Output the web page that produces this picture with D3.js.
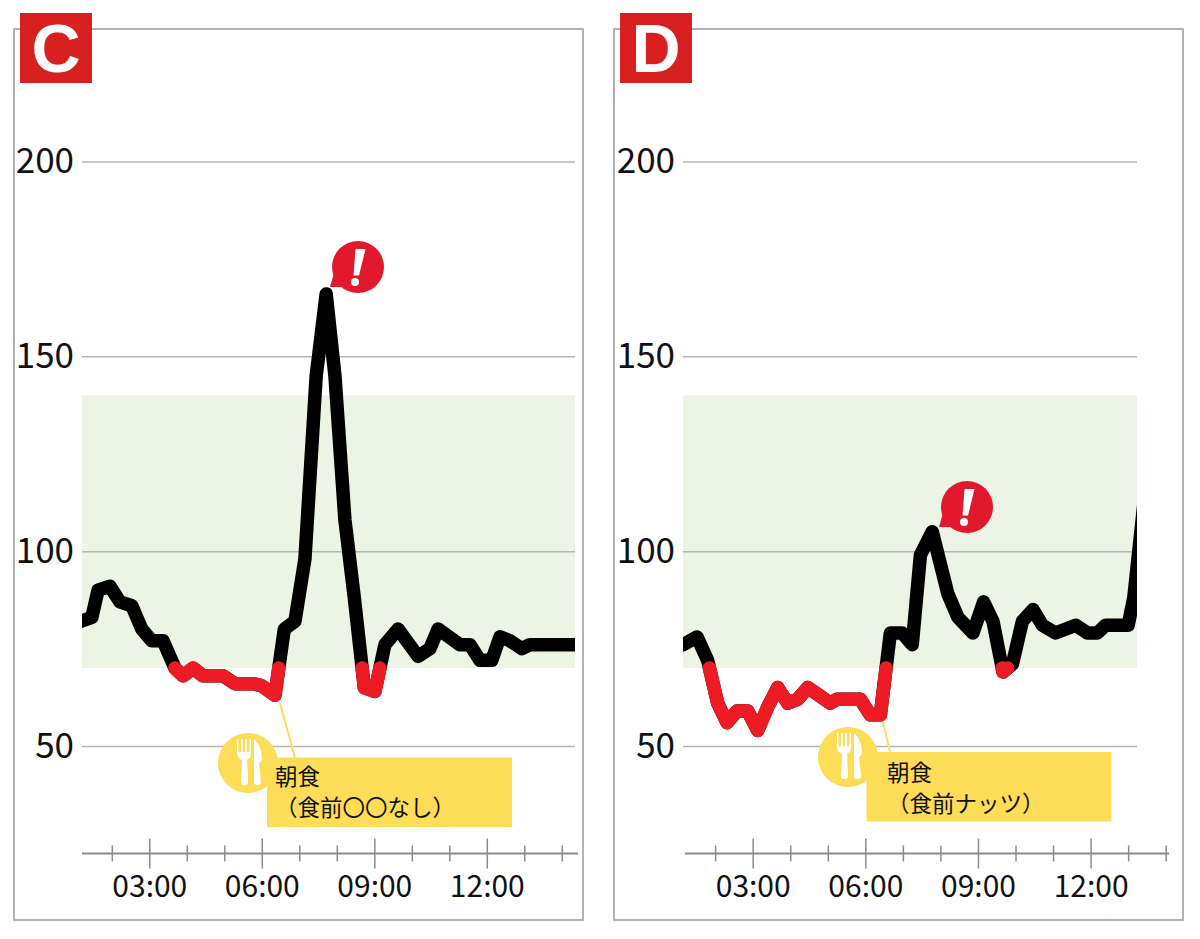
<!DOCTYPE html>
<html>
<head>
<meta charset="utf-8">
<script src="https://cdn.jsdelivr.net/npm/d3@7/dist/d3.min.js"></script>
<style>
body { margin: 0; background: #fff; }
svg { display: block; }
text { font-family: "Noto Sans CJK JP", "Noto Sans", sans-serif; }
</style>
</head>
<body>
<script>
// glucose readings
var timesC = ["01:10","01:28","01:38","01:57","02:13","02:32","02:48","03:04","03:22","03:41","03:54","04:10","04:26","04:58","05:17","05:46","05:59","06:21","06:36","06:53","07:09","07:27","07:43","07:57","08:13","08:28","08:44","09:01","09:17","09:38","10:10","10:29","10:42","11:17","11:33","11:49","12:08","12:21","12:37","12:56","13:09","14:29"];
var valuesC = [82,83,90,91,87,86,80,77,77,70,68,70,68,68,66,66,65.5,63,80,82,98,145,166,145,108,88,65,64,76,80,73,75,80,76,76,72,72,78,77,75,76,76];

var timesD = ["01:09","01:31","01:48","02:04","02:19","02:35","02:52","03:08","03:24","03:40","03:56","04:12","04:28","05:04","05:15","05:52","06:08","06:24","06:40","06:59","07:15","07:28","07:47","08:12","08:28","08:52","09:09","09:24","09:40","09:55","10:11","10:28","10:43","11:04","11:36","11:55","12:11","12:24","13:00","13:09","13:25"];
var valuesD = [76,78,72,61,56,59,59,54,60,65,61,62,65,61,62,62,58,58,79,79,76,99,105,89,83,79,87,82,69,71,82,85,81,79,81,79,79,81,81,88,112];

var yTicks = [50,100,150,200];
var majorTicks = ["03:00","06:00","09:00","12:00"];
var minorTicks = ["02:00","04:00","05:00","07:00","08:00","10:00","11:00","13:00","14:00"];
var bandRange = [70,140];
var threshold = 70;

var svgWidth = 1200, svgHeight = 939;
var parseTime = d3.timeParse("%H:%M");
var formatTime = d3.timeFormat("%H:%M");

var red = "#ed1c24", yellow = "#fddc58", gridColor = "#b4b4b4", axisColor = "#8c8c8c";
var lineWidth = 13.5;

var svg = d3.select("body").append("svg")
    .attr("width", svgWidth)
    .attr("height", svgHeight);

var y = d3.scaleLinear().domain([50,200]).range([746,161.5]);

// splits a series into the runs below the threshold, ends on the crossing
function lowRuns(points) {
    var runs = [], run = null;
    points.forEach(function (p, i) {
        if (p.value <= threshold) {
            if (!run) {
                run = [];
                if (i > 0) run.push(crossing(points[i-1], p));
            }
            run.push(p);
        } else if (run) {
            run.push(crossing(points[i-1], p));
            runs.push(run);
            run = null;
        }
    });
    if (run) runs.push(run);
    return runs;
}

function crossing(a, b) {
    var f = (threshold - a.value) / (b.value - a.value);
    return {date: new Date(+a.date + f * (b.date - a.date)), value: threshold};
}

function drawPanel(p) {
    var g = svg.append("g");
    var x = d3.scaleTime()
        .domain([parseTime("03:00"), parseTime("12:00")])
        .range(p.xRange);

    g.append("rect")
        .attr("x", p.box[0]).attr("y", 29)
        .attr("width", p.box[1] - p.box[0]).attr("height", 891)
        .attr("fill", "#fff").attr("stroke", "#b3b3b3").attr("stroke-width", 2);

    g.append("rect")
        .attr("x", p.left).attr("y", y(bandRange[1]))
        .attr("width", p.right - p.left).attr("height", y(bandRange[0]) - y(bandRange[1]))
        .attr("fill", "#ecf5e5");

    var yAxis = g.append("g")
        .attr("transform", "translate(" + p.left + ",0)")
        .call(d3.axisLeft(y).tickValues(yTicks).tickSize(-(p.right - p.left)).tickPadding(8));
    yAxis.select(".domain").remove();
    yAxis.selectAll("line").attr("stroke", gridColor).attr("stroke-width", 1.5);
    yAxis.selectAll("text")
        .attr("font-size", 35).attr("fill", "#111")
        .style("font-family", '"Noto Sans CJK JP"');

    // x axis
    var axisG = g.append("g").attr("transform", "translate(0,853.5)");
    axisG.append("line")
        .attr("x1", p.axisEnds[0]).attr("x2", p.axisEnds[1])
        .attr("stroke", axisColor).attr("stroke-width", 2);

    var minor = axisG.append("g")
        .call(d3.axisBottom(x).tickValues(minorTicks.map(parseTime)).tickSize(8).tickFormat(""));
    minor.select(".domain").remove();
    minor.selectAll("line").attr("y1", -8).attr("stroke", axisColor).attr("stroke-width", 1.5);

    var major = axisG.append("g")
        .call(d3.axisBottom(x).tickValues(majorTicks.map(parseTime)).tickSize(15).tickPadding(7).tickFormat(formatTime));
    major.select(".domain").remove();
    major.selectAll("line").attr("y1", -15).attr("stroke", axisColor).attr("stroke-width", 1.5);
    major.selectAll("text")
        .attr("font-size", 30).attr("fill", "#111")
        .style("font-family", '"Noto Sans CJK JP"');

    // series, cut at the sides of the plot
    var points = p.times.map(function (t, i) {
        return {date: parseTime(t), value: p.values[i]};
    });
    var line = d3.line()
        .x(function (d) { return x(d.date); })
        .y(function (d) { return y(d.value); });

    g.append("clipPath").attr("id", "clip" + p.name)
        .append("rect")
        .attr("x", p.left).attr("y", 0)
        .attr("width", p.right - p.left).attr("height", svgHeight);

    var plot = g.append("g").attr("clip-path", "url(#clip" + p.name + ")");
    plot.append("path")
        .datum(points)
        .attr("fill", "none")
        .attr("stroke", "#000")
        .attr("stroke-width", lineWidth)
        .attr("stroke-linejoin", "round")
        .attr("stroke-linecap", "round")
        .attr("d", line);
    plot.selectAll("path.low")
        .data(lowRuns(points))
        .enter().append("path")
        .attr("class", "low")
        .attr("fill", "none")
        .attr("stroke", red)
        .attr("stroke-width", lineWidth)
        .attr("stroke-linejoin", "round")
        .attr("stroke-linecap", "round")
        .attr("d", line);

    // meal note
    g.append("line")
        .attr("x1", p.leader[0]).attr("y1", p.leader[1])
        .attr("x2", p.leader[2]).attr("y2", p.leader[3])
        .attr("stroke", yellow).attr("stroke-width", 2);

    var icon = g.append("g").attr("transform", "translate(" + p.icon[0] + "," + p.icon[1] + ")");
    icon.append("circle").attr("r", 30).attr("fill", yellow);
    icon.append("path")
        .attr("fill", "#fff")
        .attr("d", "M-11,-24 L-9.5,-24 L-9.5,-11 L-7,-11 L-7,-24 L-5.2,-24 L-5.2,-11 L-2.8,-11 L-2.8,-24 L-1,-24 L-1,-11 L1.5,-11 L1.5,-24 L3,-24 L3,-10 Q3,-5 -1,-3 L0,19 Q0,22 -3.5,22 Q-7,22 -7,19 L-6,-3 Q-11,-5 -11,-10 Z");
    icon.append("path")
        .attr("fill", "#fff")
        .attr("d", "M6,-24 Q14,-17 14,-5 Q14,-1 11,0 L13,19 Q13,22 9.5,22 Q6,22 6,19 Z");

    g.append("rect")
        .attr("x", p.note[0]).attr("y", p.note[1])
        .attr("width", 245).attr("height", 69.5)
        .attr("fill", yellow);

    g.selectAll("text.note")
        .data(p.noteLines)
        .enter().append("text")
        .attr("class", "note")
        .attr("x", p.noteText[0])
        .attr("y", function (d, i) { return p.noteText[1] + i * 30.5; })
        .attr("font-size", 22.5)
        .attr("fill", "#111")
        .text(function (d) { return d; });

    // warning bubble
    var bubble = g.append("g").attr("transform", "translate(" + p.bubble[0] + "," + p.bubble[1] + ")");
    bubble.append("circle").attr("r", 26).attr("fill", "#e2182d");
    bubble.append("path").attr("fill", "#e2182d").attr("d", "M-24,6 L-28,20 L-10,20 Z");
    bubble.append("path").attr("fill", "#fff").attr("d", "M-2.5,-18 L7.5,-18 L1,8.5 L-4.5,8.5 Z");
    bubble.append("circle").attr("cx", -3).attr("cy", 15).attr("r", 4).attr("fill", "#fff");

    // panel letter
    g.append("rect")
        .attr("x", p.badge).attr("y", 13)
        .attr("width", 72).attr("height", 70)
        .attr("fill", "#d7201f");
    g.append("text")
        .attr("x", p.badge + 36).attr("y", 72)
        .attr("text-anchor", "middle")
        .attr("font-size", 68)
        .attr("font-weight", "bold")
        .attr("fill", "#fff")
        .style("font-family", '"Liberation Sans"')
        .text(p.name);
}

drawPanel({
    name: "C", times: timesC, values: valuesC,
    box: [14,583], left: 82, right: 575, xRange: [149.3,486.8], axisEnds: [82,578],
    badge: 20, leader: [280,703,295,758], icon: [248,763],
    note: [267,757.5], noteText: [275,785], noteLines: ["朝食","（食前〇〇なし）"],
    bubble: [358,267]
});

drawPanel({
    name: "D", times: timesD, values: valuesD,
    box: [614,1183], left: 683, right: 1137, xRange: [752.7,1090.6], axisEnds: [685,1169],
    badge: 620, leader: [883,722,890,752], icon: [848,757],
    note: [866.5,752], noteText: [887,781], noteLines: ["朝食","（食前ナッツ）"],
    bubble: [967,507]
});
</script>
</body>
</html>
